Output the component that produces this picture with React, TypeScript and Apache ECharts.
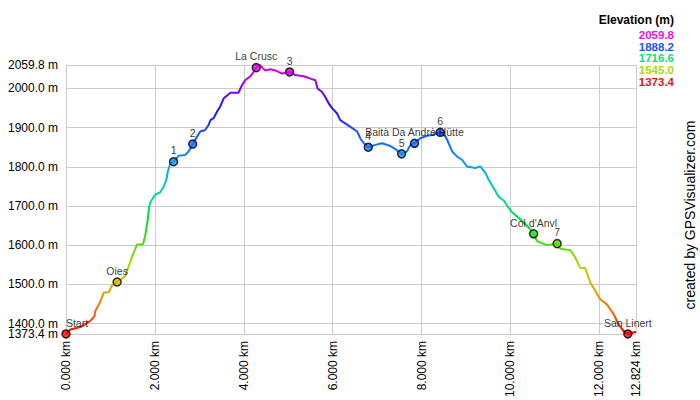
import React, { useEffect, useRef } from "react";
import * as echarts from "echarts";

const distKm = [
  0, 0.1, 0.32, 0.55, 0.64, 0.66, 0.76, 0.85, 0.96, 1.03, 1.15, 1.33, 1.41, 1.49, 1.6, 1.73, 1.78, 1.84, 1.87, 1.91,
  2.01, 2.12, 2.2, 2.26, 2.29, 2.35, 2.42, 2.53, 2.68, 2.76, 2.85, 2.95, 3.02, 3.13, 3.21, 3.25, 3.32, 3.4, 3.47, 3.55,
  3.7, 3.88, 3.96, 4.03, 4.15, 4.22, 4.28, 4.36, 4.48, 4.6, 4.71, 4.86, 5.03, 5.16, 5.35, 5.5, 5.61, 5.66, 5.76, 5.83,
  5.91, 5.99, 6.1, 6.17, 6.28, 6.4, 6.55, 6.62, 6.7, 6.8, 6.96, 7.11, 7.3, 7.41, 7.55, 7.67, 7.75, 7.84, 7.97, 8.12,
  8.24, 8.42, 8.54, 8.61, 8.69, 8.8, 8.91, 9.02, 9.21, 9.32, 9.44, 9.51, 9.62, 9.73, 9.85, 9.96, 10.02, 10.15, 10.3, 10.45,
  10.52, 10.6, 10.82, 11.05, 11.12, 11.35, 11.46, 11.57, 11.68, 11.8, 11.91, 12.02, 12.17, 12.32, 12.43, 12.55, 12.64, 12.824,
];
const elevM = [
  1373.4, 1385, 1391, 1407, 1419, 1432, 1453, 1479, 1480, 1496, 1506, 1521, 1546, 1572, 1602, 1602, 1623, 1665, 1699, 1712,
  1729, 1735, 1750, 1767, 1788, 1809, 1813, 1828, 1830, 1839, 1858, 1877, 1890, 1894, 1907, 1919, 1924, 1941, 1954, 1975,
  1989, 1989, 2008, 2021, 2031, 2042, 2053, 2059.8, 2046, 2049, 2046, 2038, 2042, 2034, 2031, 2025, 2021, 2000, 1991, 1979,
  1962, 1949, 1936, 1919, 1911, 1902, 1890, 1873, 1860, 1850, 1856, 1860, 1853, 1845, 1833, 1839, 1856, 1860, 1873, 1879,
  1881, 1888, 1877, 1860, 1839, 1826, 1818, 1801, 1797, 1801, 1784, 1767, 1746, 1724, 1714, 1695, 1686, 1673, 1658, 1640,
  1629, 1610, 1600, 1604, 1591, 1587, 1568, 1542, 1542, 1504, 1483, 1462, 1449, 1424, 1398, 1380, 1373.4, 1379,
];

const markerNames = ["Start", "Oies", "1", "2", "La Crusc", "3", "4", "5", "Baità Da Andrè Hütte", "6", "Col d'Anvl", "7", "San Linert"];
const markerKm = [0, 1.15, 2.42, 2.85, 4.28, 5.03, 6.8, 7.55, 7.84, 8.42, 10.52, 11.05, 12.64];
const markerElev = [1373.4, 1506, 1813, 1858, 2053, 2042, 1850, 1833, 1860, 1888, 1629, 1604, 1373.4];

const xTicks = [0, 2, 4, 6, 8, 10, 12, 12.824];
const yTicks = [1373.4, 1400, 1500, 1600, 1700, 1800, 1900, 2000, 2059.8];
const yMinTickLabel = [1373.4];
const yMainTickLabels = [1400, 1500, 1600, 1700, 1800, 1900, 2000, 2059.8];
const legendValues = ["2059.8", "1888.2", "1716.6", "1545.0", "1373.4"];
const legendColors = ["#ee11ee", "#2255ee", "#11dd77", "#aadd00", "#ee1111"];

const yMin = 1373.4;
const yMax = 2059.8;
const xMax = 12.824;

export default function App() {
  const ref = useRef<HTMLDivElement>(null);
  useEffect(() => {
    if (!ref.current) return;
    const chart = echarts.init(ref.current, null, { renderer: "svg" });
    const font = "'Liberation Sans', Arial, sans-serif";
    const graphics: any[] = [
      {
        type: "text",
        right: 26,
        top: 14,
        style: { text: "Elevation (m)", font: `bold 12px ${font}`, fill: "#000", textAlign: "right" },
      },
      {
        type: "text",
        x: 697,
        y: 215,
        rotation: Math.PI / 2,
        style: {
          text: "created by GPSVisualizer.com",
          font: `14px ${font}`,
          fill: "#000",
          textAlign: "center",
          textVerticalAlign: "bottom",
        },
      },
    ];
    legendValues.forEach((v, i) => {
      graphics.push({
        type: "text",
        x: 674,
        y: 35 + i * 11.7,
        style: {
          text: v,
          font: `bold 11.5px ${font}`,
          lineHeight: 11,
          fill: legendColors[i],
          textAlign: "right",
          textVerticalAlign: "middle",
        },
      });
    });

    const yLabelBase = {
      margin: 8,
      fontSize: 12,
      lineHeight: 10,
      fontFamily: font,
      color: "#000",
      hideOverlap: false,
      showMinLabel: true,
      showMaxLabel: true,
      formatter: (v: number) => v.toFixed(1) + " m",
    };

    chart.setOption({
      animation: false,
      backgroundColor: "#fff",
      grid: { left: 66, right: 64, top: 65, bottom: 64 },
      xAxis: {
        type: "value",
        min: 0,
        max: xMax,
        axisLine: { show: false },
        axisTick: { show: false, customValues: xTicks },
        axisLabel: {
          customValues: xTicks,
          rotate: 90,
          margin: 7,
          fontSize: 12,
          fontFamily: font,
          color: "#000",
          showMinLabel: true,
          showMaxLabel: true,
          formatter: (v: number) => v.toFixed(3) + " km",
        },
        splitLine: { show: true, lineStyle: { color: "#cccccc", width: 1 } },
      },
      yAxis: [
        {
          type: "value",
          min: yMin,
          max: yMax,
          axisLine: { show: false },
          axisTick: { show: false, customValues: yTicks },
          axisLabel: { ...yLabelBase, customValues: yMainTickLabels },
          splitLine: { show: true, lineStyle: { color: "#cccccc", width: 1 } },
        },
        {
          type: "value",
          position: "left",
          offset: 0,
          min: yMin,
          max: yMax,
          axisLine: { show: false },
          axisTick: { show: false, customValues: yMinTickLabel },
          axisLabel: { ...yLabelBase, customValues: yMinTickLabel },
          splitLine: { show: false },
        },
      ],
      visualMap: {
        show: false,
        type: "continuous",
        seriesIndex: [0, 1],
        dimension: 1,
        min: yMin,
        max: yMax,
        inRange: {
          color: [
            "#ff0000",
            "#ff6600",
            "#ddaa00",
            "#aadd00",
            "#55dd00",
            "#00dd33",
            "#00dd99",
            "#00bbdd",
            "#1188ee",
            "#1e50ff",
            "#2211ee",
            "#8800ee",
            "#ee00ee",
          ],
        },
      },
      series: [
        {
          type: "line",
          data: distKm.map((d, i) => [d, elevM[i]]),
          showSymbol: false,
          lineStyle: { width: 2 },
          z: 2,
        },
        {
          type: "scatter",
          data: markerKm.map((d, i) => ({
            value: [d, markerElev[i]],
            name: markerNames[i],
            label: i === 0 ? { offset: [11, 0] } : undefined,
          })),
          symbol: "circle",
          symbolSize: 8,
          itemStyle: { borderColor: "#000", borderWidth: 1.5 },
          label: {
            show: true,
            position: "top",
            distance: 1,
            formatter: (p: any) => p.name,
            fontSize: 10.5,
            fontFamily: font,
            color: "#000",
          },
          z: 3,
        },
      ],
      graphic: graphics,
    });
    return () => chart.dispose();
  }, []);
  return <div ref={ref} style={{ position: "fixed", left: 0, top: 0, width: 700, height: 400, background: "#fff" }} />;
}
